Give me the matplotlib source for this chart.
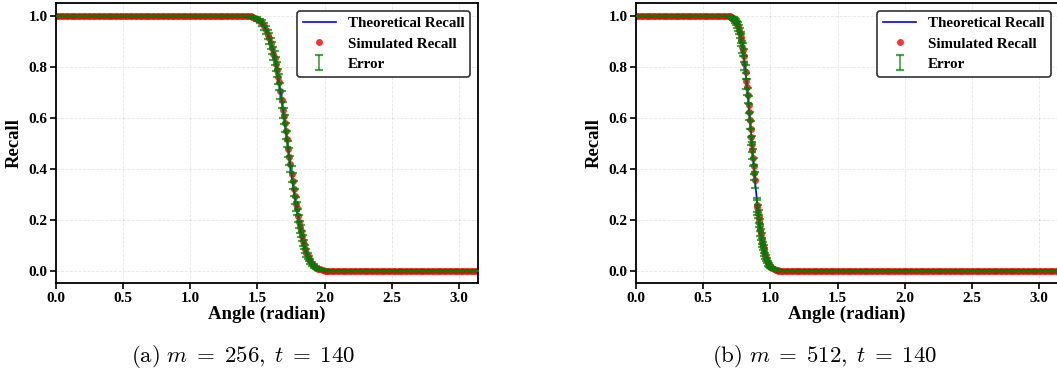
import numpy as np
import matplotlib
matplotlib.use("Agg")
import matplotlib.pyplot as plt

plt.rcParams["font.family"] = "serif"
plt.rcParams["font.serif"] = ["Liberation Serif", "DejaVu Serif"]
plt.rcParams["font.weight"] = "bold"
plt.rcParams["mathtext.fontset"] = "cm"

# ---- panel (a): m = 256, t = 140 ----
theo_angle_a = [0.0, 1.40, 1.45, 1.50, 1.525, 1.55, 1.575, 1.60, 1.625, 1.65, 1.675, 1.70,
                1.725, 1.75, 1.775, 1.80, 1.825, 1.85, 1.875, 1.90, 1.925, 1.95, 1.975,
                2.00, 2.05, 3.1416]
theo_recall_a = [1.0, 0.9995, 0.997, 0.989, 0.978, 0.962, 0.935, 0.897, 0.845, 0.775, 0.69, 0.599,
                 0.50, 0.396, 0.30, 0.218, 0.15, 0.096, 0.058, 0.034, 0.018, 0.009, 0.004,
                 0.002, 0.0003, 0.0]

sim_angle_a = [1.46, 1.48, 1.50, 1.52, 1.535, 1.55, 1.565, 1.58, 1.59, 1.60, 1.612, 1.62, 1.628,
               1.637, 1.645, 1.655, 1.662, 1.672, 1.68, 1.69, 1.698, 1.705, 1.713, 1.72, 1.73,
               1.738, 1.745, 1.755, 1.762, 1.77, 1.778, 1.785, 1.792, 1.80, 1.808, 1.815, 1.822,
               1.83, 1.838, 1.845, 1.855, 1.865, 1.875, 1.885, 1.895, 1.91, 1.925, 1.94, 1.955,
               1.97, 1.985]
sim_recall_a = [0.996, 0.993, 0.988, 0.981, 0.972, 0.960, 0.945, 0.927, 0.912, 0.893, 0.875, 0.852,
                0.835, 0.812, 0.790, 0.762, 0.742, 0.705, 0.672, 0.632, 0.606, 0.578, 0.548, 0.518,
                0.478, 0.448, 0.418, 0.380, 0.352, 0.322, 0.292, 0.262, 0.244, 0.215, 0.192, 0.170,
                0.156, 0.136, 0.118, 0.103, 0.086, 0.070, 0.057, 0.047, 0.037, 0.026, 0.018, 0.012,
                0.008, 0.005, 0.003]
sim_err_a = [0.003, 0.005, 0.007, 0.009, 0.011, 0.014, 0.016, 0.018, 0.020, 0.022, 0.024, 0.026,
             0.027, 0.028, 0.029, 0.030, 0.031, 0.031, 0.032, 0.032, 0.032, 0.032, 0.032, 0.032,
             0.032, 0.032, 0.031, 0.031, 0.030, 0.030, 0.029, 0.028, 0.027, 0.026, 0.025, 0.024,
             0.023, 0.021, 0.020, 0.018, 0.016, 0.015, 0.013, 0.011, 0.010, 0.008, 0.006, 0.005,
             0.004, 0.003, 0.002]
# flat parts: recall reads exactly 1 before and 0 after the drop
flat_hi_a = np.linspace(0.0, 1.45, 80)
flat_lo_a = np.linspace(2.0, 3.1416, 64)

# ---- panel (b): m = 512, t = 140 ----
theo_angle_b = [0.0, 0.65, 0.70, 0.72, 0.74, 0.75, 0.76, 0.77, 0.78, 0.79, 0.80, 0.81, 0.82, 0.83,
                0.84, 0.85, 0.86, 0.87, 0.88, 0.89, 0.90, 0.91, 0.92, 0.93, 0.94, 0.95, 0.96,
                0.97, 0.98, 0.99, 1.00, 1.02, 1.04, 1.06, 1.10, 3.1416]
theo_recall_b = [1.0, 0.9999, 0.997, 0.993, 0.981, 0.971, 0.957, 0.938, 0.915, 0.883, 0.847, 0.805,
                 0.755, 0.70, 0.64, 0.578, 0.512, 0.449, 0.388, 0.33, 0.272, 0.224, 0.181, 0.142,
                 0.110, 0.085, 0.063, 0.046, 0.034, 0.024, 0.016, 0.007, 0.003, 0.0013, 0.0002, 0.0]

sim_angle_b = [0.705, 0.715, 0.722, 0.73, 0.738, 0.745, 0.752, 0.758, 0.765, 0.772, 0.778, 0.783,
               0.79, 0.795, 0.80, 0.806, 0.815, 0.822, 0.826, 0.832, 0.838, 0.843, 0.848, 0.853,
               0.858, 0.862, 0.866, 0.871, 0.876, 0.88, 0.884, 0.90, 0.903, 0.907, 0.912, 0.916,
               0.92, 0.925, 0.93, 0.935, 0.94, 0.945, 0.95, 0.955, 0.962, 0.968, 0.975, 0.983,
               0.992, 1.0, 1.012, 1.025, 1.04, 1.055]
sim_recall_b = [0.996, 0.994, 0.991, 0.987, 0.982, 0.975, 0.968, 0.959, 0.946, 0.932, 0.917, 0.905,
                0.878, 0.868, 0.845, 0.815, 0.780, 0.745, 0.722, 0.688, 0.652, 0.622, 0.590, 0.556,
                0.525, 0.498, 0.472, 0.444, 0.412, 0.385, 0.356, 0.258, 0.248, 0.232, 0.212, 0.195,
                0.180, 0.160, 0.142, 0.126, 0.110, 0.096, 0.085, 0.074, 0.058, 0.048, 0.038, 0.028,
                0.021, 0.016, 0.010, 0.006, 0.003, 0.001]
sim_err_b = [0.003, 0.004, 0.006, 0.008, 0.010, 0.012, 0.014, 0.016, 0.018, 0.020, 0.022, 0.023,
             0.025, 0.026, 0.027, 0.028, 0.029, 0.030, 0.031, 0.031, 0.032, 0.032, 0.032, 0.032,
             0.032, 0.032, 0.032, 0.032, 0.031, 0.031, 0.031, 0.029, 0.028, 0.027, 0.026, 0.025,
             0.024, 0.023, 0.021, 0.020, 0.019, 0.017, 0.016, 0.015, 0.013, 0.012, 0.010, 0.008,
             0.007, 0.006, 0.004, 0.003, 0.002, 0.001]
flat_hi_b = np.linspace(0.0, 0.70, 40)
flat_lo_b = np.linspace(1.06, 3.1416, 116)

captions = [r"$\mathrm{(a)}\ m\;=\;256,\;t\;=\;140$", r"$\mathrm{(b)}\ m\;=\;512,\;t\;=\;140$"]


def draw_panel(ax, theo_x, theo_y, sim_x, sim_y, sim_e, hi_x, lo_x):
    """theoretical curve, simulated points and their error bars"""
    xs = np.concatenate([hi_x, sim_x, lo_x])
    ys = np.concatenate([np.ones(len(hi_x)), sim_y, np.zeros(len(lo_x))])
    es = np.concatenate([np.zeros(len(hi_x)), sim_e, np.zeros(len(lo_x))])

    ax.plot(theo_x, theo_y, color="blue", lw=1.2, label="Theoretical Recall", zorder=3)
    ax.plot(xs, ys, "o", color="red", alpha=0.8, ms=5, mew=0, label="Simulated Recall", zorder=2)
    ax.errorbar(xs, ys, yerr=es, fmt="none", ecolor="green", alpha=0.7, elinewidth=1.3,
                capsize=3, capthick=1.6, label="Error", zorder=4)

    ax.set_xlim(0, np.pi)
    ax.set_ylim(-0.05, 1.05)
    ax.set_xticks([0.0, 0.5, 1.0, 1.5, 2.0, 2.5, 3.0])
    ax.set_yticks([0.0, 0.2, 0.4, 0.6, 0.8, 1.0])
    ax.grid(True, color="gray", linestyle="--", linewidth=0.6, alpha=0.2)
    ax.tick_params(direction="out", length=4, width=1.2, labelsize=11, pad=2)
    for lab in ax.get_xticklabels() + ax.get_yticklabels():
        lab.set_fontweight("bold")
    for sp in ax.spines.values():
        sp.set_linewidth(1.3)
    ax.set_xlabel("Angle (radian)", fontsize=13.5, fontweight="bold", labelpad=1)
    ax.set_ylabel("Recall", fontsize=13.5, fontweight="bold", labelpad=4)
    leg = ax.legend(loc="upper right", fontsize=10.8, framealpha=1, edgecolor="#333333",
                    fancybox=True, handlelength=2.2, labelspacing=0.45)
    leg.get_frame().set_linewidth(1.2)


fig = plt.figure(figsize=(10.57, 3.73), dpi=100)
ax_a = fig.add_axes([0.0527, 0.2404, 0.3995, 0.7507])
ax_b = fig.add_axes([0.6017, 0.2404, 0.3995, 0.7507])

draw_panel(ax_a, theo_angle_a, theo_recall_a, sim_angle_a, sim_recall_a, sim_err_a, flat_hi_a, flat_lo_a)
draw_panel(ax_b, theo_angle_b, theo_recall_b, sim_angle_b, sim_recall_b, sim_err_b, flat_hi_b, flat_lo_b)

fig.text(0.230, 0.030, captions[0], fontsize=16.5, ha="center", va="baseline")
fig.text(0.7805, 0.030, captions[1], fontsize=16.5, ha="center", va="baseline")

fig.savefig("out.png", dpi=100)
